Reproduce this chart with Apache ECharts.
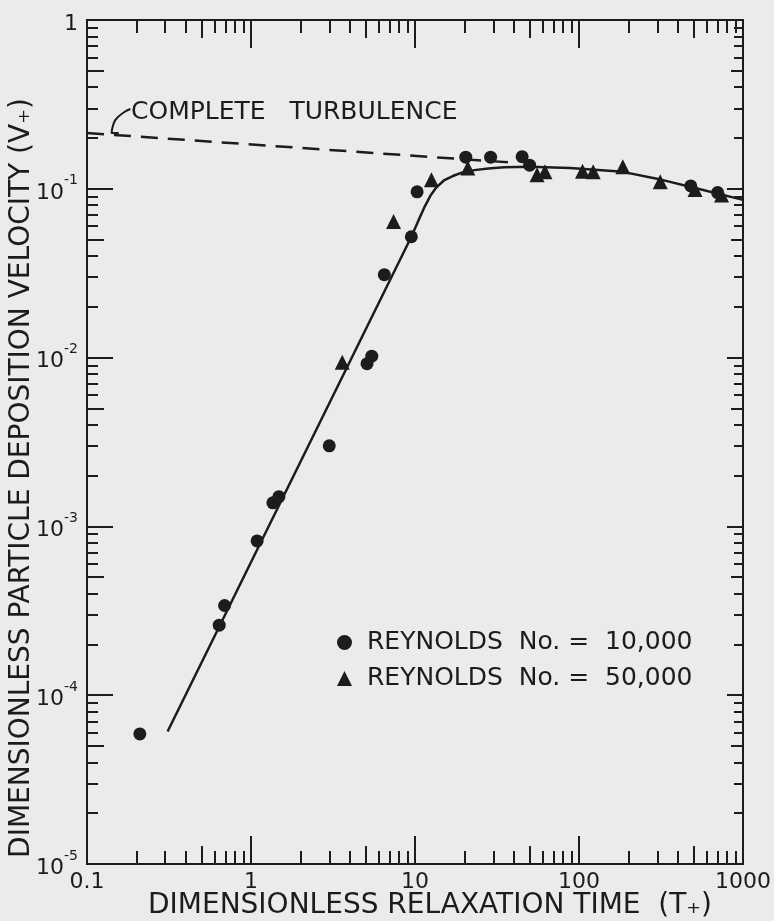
<!DOCTYPE html>
<html>
<head>
<meta charset="utf-8">
<title>Particle deposition velocity</title>
<script src="https://cdn.jsdelivr.net/npm/echarts@6/dist/echarts.min.js"></script>
<style>
  html, body { margin: 0; padding: 0; background: #ebebea; }
  #chart { width: 774px; height: 921px; }
</style>
</head>
<body>
<div id="chart"></div>
<script>
// Reynolds No. = 10,000 (circles)
var circleX = [0.21, 0.64, 0.69, 1.09, 1.36, 1.48, 3.0, 5.1, 5.45, 6.5, 9.5, 10.3, 20.4, 28.9, 45, 50, 480, 700];
var circleY = [5.9e-5, 2.6e-4, 3.4e-4, 8.2e-4, 1.38e-3, 1.5e-3, 3.0e-3, 0.0092, 0.0102, 0.031, 0.052, 0.096, 0.154, 0.154, 0.155, 0.138, 0.104, 0.095];
// Reynolds No. = 50,000 (triangles)
var triX = [3.6, 7.4, 12.6, 21, 55.5, 62, 105, 122, 185, 313, 510, 740];
var triY = [0.0094, 0.064, 0.113, 0.133, 0.121, 0.126, 0.127, 0.126, 0.135, 0.11, 0.099, 0.092];
// drawn curve
var curveX = [0.31, 9.5, 10.5, 11.5, 12.5, 13.5, 15, 17, 19.5, 23, 28, 35, 50, 88, 185, 320, 510, 1000];
var curveY = [6.1e-5, 0.052, 0.065, 0.079, 0.092, 0.102, 0.112, 0.119, 0.125, 0.129, 0.132, 0.134, 0.135, 0.133, 0.126, 0.113, 0.101, 0.086];
// complete turbulence (dashed)
var turbX = [0.1, 39];
var turbY = [0.214, 0.143];
// little leader under the label
var hookX = [0.156, 0.141, 0.149, 0.169, 0.184];
var hookY = [0.214, 0.214, 0.256, 0.285, 0.297];

var xMajor = [0.1, 1, 10, 100, 1000];
var xLabels = ['0.1', '1', '10', '100', '1000'];
var yMajor = [1e-5, 1e-4, 1e-3, 1e-2, 1e-1, 1];
var yLabels = ['-5', '-4', '-3', '-2', '-1', ''];
var midMults = [5];
var minorMults = [2, 3, 4, 6, 7, 8, 9];

var INK = '#1c1c1c';
var FONT = '"DejaVu Sans", "Liberation Sans", sans-serif';

function pairs(xs, ys) {
  return xs.map(function (x, i) { return [x, ys[i]]; });
}

function multTicks(major, mults) {
  var out = [];
  major.slice(0, -1).forEach(function (d) {
    mults.forEach(function (m) { out.push(d * m); });
  });
  return out;
}

function findIdx(list, v) {
  for (var i = 0; i < list.length; i++) {
    if (Math.abs(Math.log10(v) - Math.log10(list[i])) < 1e-6) return i;
  }
  return -1;
}

function axis(dim, pos, ticks, len, label) {
  var ax = {
    type: 'log',
    logBase: 10,
    min: dim === 'x' ? 0.1 : 1e-5,
    max: dim === 'x' ? 1000 : 1,
    position: pos,
    axisLine: { show: true, onZero: false, lineStyle: { color: INK, width: 2 } },
    axisTick: { show: true, inside: true, length: len, customValues: ticks, lineStyle: { color: INK, width: 2 } },
    axisLabel: { show: false },
    splitLine: { show: false },
    minorTick: { show: false }
  };
  if (label) ax.axisLabel = label;
  return ax;
}

var xLabel = {
  show: true,
  customValues: xMajor,
  margin: 7,
  color: INK,
  fontFamily: FONT,
  fontSize: 22,
  formatter: function (v) {
    var i = findIdx(xMajor, v);
    return i < 0 ? '' : xLabels[i];
  }
};

var yLabel = {
  show: true,
  customValues: yMajor,
  margin: 9,
  formatter: function (v) {
    var i = findIdx(yMajor, v);
    if (i < 0) return '';
    if (yLabels[i] === '') return '{b|1}';
    return '{b|10}{s|' + yLabels[i] + '}';
  },
  rich: {
    b: { color: INK, fontFamily: FONT, fontSize: 22, lineHeight: 30, verticalAlign: 'bottom' },
    s: { color: INK, fontFamily: FONT, fontSize: 14, lineHeight: 14, verticalAlign: 'top' }
  }
};

var chart = echarts.init(document.getElementById('chart'));
chart.setOption({
  animation: false,
  backgroundColor: '#ebebea',
  grid: { left: 87, right: 23, top: 20, bottom: 57 },
  xAxis: [
    axis('x', 'bottom', xMajor, 28, xLabel),
    axis('x', 'bottom', multTicks(xMajor, midMults), 18),
    axis('x', 'bottom', multTicks(xMajor, minorMults), 13),
    axis('x', 'top', xMajor, 28),
    axis('x', 'top', multTicks(xMajor, midMults), 18),
    axis('x', 'top', multTicks(xMajor, minorMults), 13)
  ],
  yAxis: [
    axis('y', 'left', yMajor, 26, yLabel),
    axis('y', 'left', multTicks(yMajor, midMults), 17),
    axis('y', 'left', multTicks(yMajor, minorMults), 11),
    axis('y', 'right', yMajor, 16),
    axis('y', 'right', multTicks(yMajor, midMults), 12),
    axis('y', 'right', multTicks(yMajor, minorMults), 9)
  ],
  legend: {
    orient: 'vertical',
    left: 332,
    top: 625,
    itemWidth: 15,
    itemHeight: 15,
    itemGap: 11,
    textStyle: { color: INK, fontFamily: FONT, fontSize: 25, lineHeight: 25, padding: [0, 0, 0, 10] },
    data: [
      { name: 'REYNOLDS  No. =  10,000', icon: 'circle' },
      { name: 'REYNOLDS  No. =  50,000', icon: 'triangle' }
    ]
  },
  graphic: [
    {
      type: 'text', x: 131, y: 112,
      style: { text: 'COMPLETE   TURBULENCE', fill: INK, fontFamily: FONT, fontSize: 25, align: 'left', verticalAlign: 'middle' }
    },
    {
      type: 'text', x: 430, y: 906,
      style: { text: 'DIMENSIONLESS RELAXATION TIME  (T\u208A)', fill: INK, fontFamily: FONT, fontSize: 28, align: 'center', verticalAlign: 'middle' }
    },
    {
      type: 'text', x: 22, y: 478, rotation: Math.PI / 2,
      style: { text: 'DIMENSIONLESS PARTICLE DEPOSITION VELOCITY (V\u208A)', fill: INK, fontFamily: FONT, fontSize: 28, align: 'center', verticalAlign: 'middle' }
    }
  ],
  series: [
    {
      type: 'line',
      data: pairs(curveX, curveY),
      symbol: 'none',
      lineStyle: { color: INK, width: 2.5 },
      silent: true
    },
    {
      type: 'line',
      data: pairs(turbX, turbY),
      symbol: 'none',
      lineStyle: { color: INK, width: 2.5, type: [17, 10] },
      silent: true
    },
    {
      type: 'line',
      data: pairs(hookX, hookY),
      symbol: 'none',
      smooth: 0.4,
      lineStyle: { color: INK, width: 2 },
      silent: true
    },
    {
      name: 'REYNOLDS  No. =  10,000',
      type: 'scatter',
      symbol: 'circle',
      symbolSize: 13,
      itemStyle: { color: INK, opacity: 1 },
      data: pairs(circleX, circleY)
    },
    {
      name: 'REYNOLDS  No. =  50,000',
      type: 'scatter',
      symbol: 'triangle',
      symbolSize: 15,
      itemStyle: { color: INK, opacity: 1 },
      data: pairs(triX, triY)
    }
  ]
});
</script>
</body>
</html>
